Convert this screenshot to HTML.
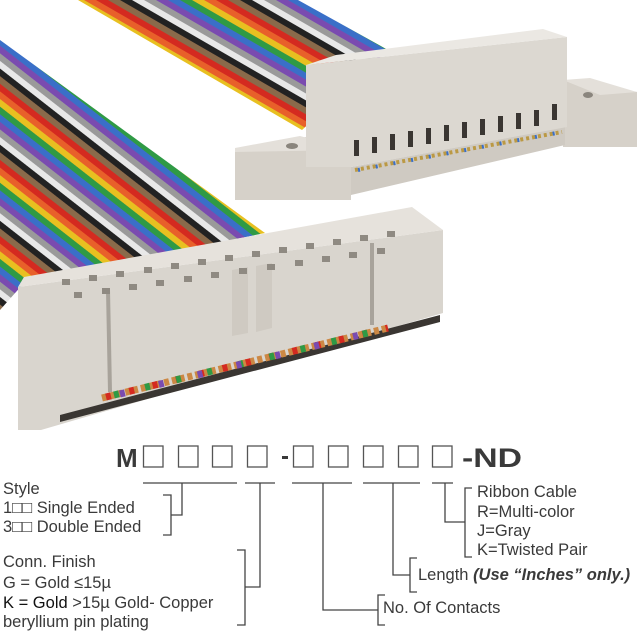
<!DOCTYPE html>
<html><head><meta charset="utf-8"><style>
html,body{margin:0;padding:0;background:#fff;width:640px;height:640px;overflow:hidden}
svg{display:block}
text{font-family:"Liberation Sans","DejaVu Sans",sans-serif;fill:#3a3a3a}
</style></head><body>
<svg width="640" height="640" viewBox="0 0 640 640" xmlns="http://www.w3.org/2000/svg">
<defs>
<pattern id="rb1" patternUnits="userSpaceOnUse" width="200" height="60" patternTransform="rotate(38)">
<rect y="0" width="200" height="6" fill="#8a6a4a"/><rect y="6" width="200" height="6" fill="#d42a20"/>
<rect y="12" width="200" height="6" fill="#e8602a"/><rect y="18" width="200" height="6" fill="#e8c020"/>
<rect y="24" width="200" height="6" fill="#2f9a45"/><rect y="30" width="200" height="6" fill="#3a6fc8"/>
<rect y="36" width="200" height="6" fill="#7a4bb0"/><rect y="42" width="200" height="6" fill="#9a9a9a"/>
<rect y="48" width="200" height="6" fill="#e8e8e8"/><rect y="54" width="200" height="6" fill="#222"/>
</pattern>
<pattern id="rb2" patternUnits="userSpaceOnUse" width="200" height="60" patternTransform="rotate(30)">
<rect y="0" width="200" height="6" fill="#8a6a4a"/><rect y="6" width="200" height="6" fill="#d42a20"/>
<rect y="12" width="200" height="6" fill="#e8602a"/><rect y="18" width="200" height="6" fill="#e8c020"/>
<rect y="24" width="200" height="6" fill="#2f9a45"/><rect y="30" width="200" height="6" fill="#3a6fc8"/>
<rect y="36" width="200" height="6" fill="#7a4bb0"/><rect y="42" width="200" height="6" fill="#9a9a9a"/>
<rect y="48" width="200" height="6" fill="#e8e8e8"/><rect y="54" width="200" height="6" fill="#222"/>
</pattern>
</defs>

<!-- top ribbon -->
<polygon points="78,0 298,0 388,50 302,130" fill="url(#rb2)"/>
<!-- top connector -->
<polygon points="235,150 306,137 351,150 351,200 235,200" fill="#d6d1c9"/>
<polygon points="235,148 300,136 352,150 235,152" fill="#e4e0da"/>
<ellipse cx="292" cy="146" rx="6" ry="3" fill="#8a857d"/>
<polygon points="563,80 637,92 637,147 563,147" fill="#d6d1c9"/>
<polygon points="563,80 590,78 637,92 600,95" fill="#e4e0da"/>
<ellipse cx="588" cy="95" rx="5" ry="3" fill="#8a857d"/>
<polygon points="351,167 565,127 565,145 351,195" fill="#cfcac2"/>
<polygon points="306,65 567,37 567,127 351,167 306,167" fill="#dcd8d1"/>
<polygon points="306,65 336,55 543,29 567,37" fill="#ebe8e3"/>
<g fill="#3a3632">
<rect x="354" y="140" width="5" height="16"/><rect x="372" y="137" width="5" height="16"/><rect x="390" y="134" width="5" height="16"/><rect x="408" y="131" width="5" height="16"/><rect x="426" y="128" width="5" height="16"/><rect x="444" y="125" width="5" height="16"/><rect x="462" y="122" width="5" height="16"/><rect x="480" y="119" width="5" height="16"/><rect x="498" y="116" width="5" height="16"/><rect x="516" y="113" width="5" height="16"/><rect x="534" y="110" width="5" height="16"/><rect x="552" y="104" width="5" height="16"/>
</g>
<line x1="355" y1="170" x2="562" y2="132" stroke="#b94" stroke-width="4" stroke-dasharray="3 3"/>
<line x1="358" y1="170" x2="562" y2="132" stroke="#3a6fc8" stroke-width="4" stroke-dasharray="2 16"/>

<!-- lower ribbon -->
<polygon points="0,40 265,233 24,283 0,310" fill="url(#rb1)"/>
<!-- lower connector -->
<polygon points="18,287 443,230 443,313 41,430 18,430" fill="#d9d5ce"/>
<polygon points="18,287 24,277 412,207 443,230" fill="#e6e2dc"/>
<polygon points="60,415 440,315 440,322 60,422" fill="#3a3632"/>
<line x1="102" y1="398" x2="388" y2="328" stroke="#c84" stroke-width="7" stroke-dasharray="5 3"/>
<line x1="106" y1="397" x2="388" y2="328" stroke="#d42a20" stroke-width="7" stroke-dasharray="5 19"/>
<line x1="114" y1="395" x2="388" y2="328" stroke="#2f9a45" stroke-width="7" stroke-dasharray="5 27"/>
<line x1="120" y1="394" x2="388" y2="328" stroke="#7a4bb0" stroke-width="7" stroke-dasharray="5 35"/>
<line x1="108" y1="290" x2="110" y2="392" stroke="#a8a39b" stroke-width="4"/>
<line x1="372" y1="243" x2="372" y2="325" stroke="#a8a39b" stroke-width="4"/>
<polygon points="232,270 248,267 248,333 232,336" fill="#cfcac2"/>
<polygon points="256,266 272,263 272,328 256,332" fill="#cfcac2"/>
<g fill="#8f8a82">
<rect x="62" y="279" width="8" height="6"/><rect x="89" y="275" width="8" height="6"/><rect x="116" y="271" width="8" height="6"/><rect x="144" y="267" width="8" height="6"/><rect x="171" y="263" width="8" height="6"/><rect x="198" y="259" width="8" height="6"/><rect x="225" y="255" width="8" height="6"/><rect x="252" y="251" width="8" height="6"/><rect x="279" y="247" width="8" height="6"/><rect x="306" y="243" width="8" height="6"/><rect x="333" y="239" width="8" height="6"/><rect x="360" y="235" width="8" height="6"/><rect x="387" y="231" width="8" height="6"/>
<rect x="74" y="292" width="8" height="6"/><rect x="102" y="288" width="8" height="6"/><rect x="129" y="284" width="8" height="6"/><rect x="156" y="280" width="8" height="6"/><rect x="184" y="276" width="8" height="6"/><rect x="211" y="272" width="8" height="6"/><rect x="239" y="268" width="8" height="6"/><rect x="267" y="264" width="8" height="6"/><rect x="295" y="260" width="8" height="6"/><rect x="322" y="256" width="8" height="6"/><rect x="349" y="252" width="8" height="6"/><rect x="377" y="248" width="8" height="6"/>
</g>

<!-- part number -->
<text x="116" y="467" font-size="26" font-weight="bold">M</text>
<g fill="none" stroke="#555" stroke-width="1.3">
<rect x="143.5" y="446" width="19.5" height="21"/><rect x="178.5" y="446" width="19.5" height="21"/><rect x="212.5" y="446" width="19.5" height="21"/><rect x="247.5" y="446" width="19.5" height="21"/>
<rect x="293.5" y="446" width="19.5" height="21"/><rect x="328.5" y="446" width="19.5" height="21"/><rect x="363.5" y="446" width="19.5" height="21"/><rect x="398.5" y="446" width="19.5" height="21"/><rect x="432.5" y="446" width="19.5" height="21"/>
</g>
<rect x="282" y="456" width="6" height="3" fill="#3a3a3a"/>
<text x="462" y="467" font-size="27" font-weight="bold" textLength="60" lengthAdjust="spacingAndGlyphs">-ND</text>

<g fill="none" stroke="#444" stroke-width="1.3">
<path d="M143 483H237M245 483H275M292 483H352M363 483H420M432 483H453"/>
<path d="M182 483V515H171M163 495H171V535H163"/>
<path d="M260 483V587H245M237 550H245V625H237"/>
<path d="M323 483V610H378M385 595H378V625H385"/>
<path d="M393 483V575H410M417 558H410V592H417"/>
<path d="M445 483V522H465M472 488H465V557H472"/>
</g>

<g font-size="16.5">
<text x="3" y="494">Style</text>
<text x="3" y="513">1□□ Single Ended</text>
<text x="3" y="532">3□□ Double Ended</text>
<text x="3" y="567">Conn. Finish</text>
<text x="3" y="588">G = Gold ≤15µ</text>
<text x="3" y="608"><tspan fill="#111">K = Gold</tspan> &gt;15µ Gold- Copper</text>
<text x="3" y="627">beryllium pin plating</text>
<text x="477" y="497">Ribbon Cable</text>
<text x="477" y="517">R=Multi-color</text>
<text x="477" y="536">J=Gray</text>
<text x="477" y="555">K=Twisted Pair</text>
<text x="418" y="580">Length <tspan font-weight="bold" font-style="italic">(Use “Inches” only.)</tspan></text>
<text x="383" y="613">No. Of Contacts</text>
</g>
</svg>
</body></html>
